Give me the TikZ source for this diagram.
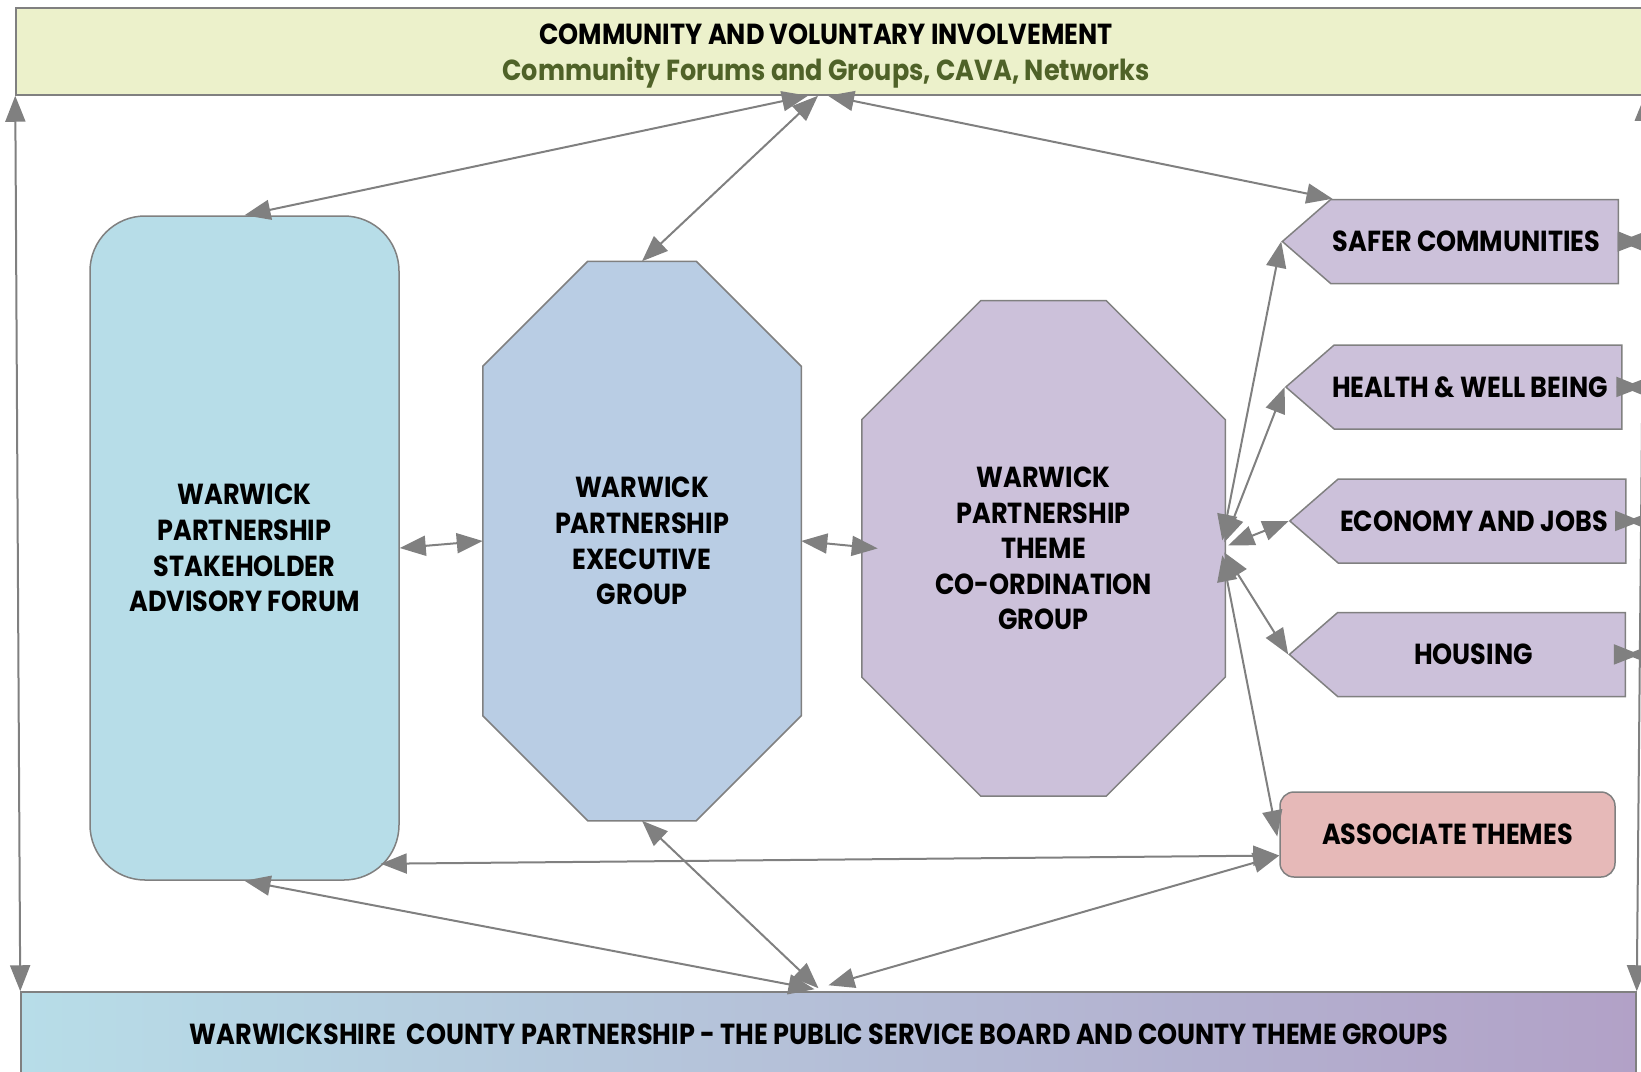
\documentclass[tikz,border=0pt]{standalone}
\usepackage{fontspec}
\newfontfamily\futura[FakeStretch = 0.88]{Poppins}
\usetikzlibrary{shapes}
\usetikzlibrary{calc}
\usetikzlibrary{positioning}
\usetikzlibrary{arrows.meta}
\usetikzlibrary{backgrounds}

\definecolor{barYellow}{RGB}{236,241,203}
\definecolor{forumBlue}{RGB}{183,221,232}
\definecolor{execBlue}{RGB}{185,205,228}
\definecolor{themeLilac}{RGB}{204,193,218}
\definecolor{assocPink}{RGB}{230,185,184}
\definecolor{countyLilac}{RGB}{178,161,199}
\definecolor{forumGreen}{RGB}{79,98,40}
\definecolor{lineGrey}{RGB}{128,128,128}

\begin{document}
\begin{tikzpicture}[x = 1pt, y = -1pt, line width = 1.5pt,
    txt/.style = {font = \futura\bfseries\fontsize{29}{35.6}\selectfont, align = center},
    box/.style = {draw = lineGrey, txt},
    outline/.style = {draw = lineGrey, line width = 1.5pt},
    tip/.style = {draw = lineGrey, line width = 2pt, -{Triangle[length = 26pt, width = 20pt]}},
    link/.style = {tip, {Triangle[length = 26pt, width = 20pt]}-{Triangle[length = 26pt, width = 20pt]}},
    theme/.style = {box, signal, signal to = west, signal pointer angle = 82, fill = themeLilac,
        minimum width = 336pt, minimum height = 84pt, inner sep = 0pt,
        label = {[txt, xshift = -8pt]center:#1}}
]

    \useasboundingbox (0,0) rectangle (1641,1071);
    \clip (0,0) rectangle (1641,1071);

    % the two bars
    \node (TOP) at (841,51.5) [box, fill = barYellow, minimum width = 1650pt, minimum height = 87pt] {};
    \node (TOPTXT) at (826,56) [txt] {COMMUNITY AND VOLUNTARY INVOLVEMENT\\ \color{forumGreen}Community Forums and Groups, CAVA, Networks};

    \node (BOT) at (828.5,1034) [box, left color = forumBlue, right color = countyLilac, minimum width = 1615pt, minimum height = 84pt] {};
    \node (BOTTXT) at (819,1034) [txt] {WARWICKSHIRE\ \ COUNTY PARTNERSHIP - THE PUBLIC SERVICE BOARD AND COUNTY THEME GROUPS};

    % partnership groups
    \node (STK) at (244.5,548) [box, fill = forumBlue, rounded corners = 55pt, minimum width = 309pt, minimum height = 664pt] {WARWICK\\PARTNERSHIP\\STAKEHOLDER\\ADVISORY FORUM};
    \node (EXE) at (642,541) [txt, minimum width = 317pt, minimum height = 558pt] {WARWICK\\PARTNERSHIP\\EXECUTIVE\\GROUP};
    \node (THM) at (1043.5,548.4) [txt, minimum width = 362pt, minimum height = 494pt] {WARWICK\\PARTNERSHIP\\THEME\\CO-ORDINATION\\GROUP};

    \begin{scope}[on background layer]
        \draw[outline, fill = execBlue] ($(EXE.north west)+(105,0)$) -- ($(EXE.north east)+(-105,0)$) -- ($(EXE.north east)+(0,105)$)
            -- ($(EXE.south east)+(0,-105)$) -- ($(EXE.south east)+(-105,0)$) -- ($(EXE.south west)+(105,0)$)
            -- ($(EXE.south west)+(0,-105)$) -- ($(EXE.north west)+(0,105)$) -- cycle;
        \draw[outline, fill = themeLilac] ($(THM.north west)+(119,0)$) -- ($(THM.north east)+(-119,0)$) -- ($(THM.north east)+(0,119)$)
            -- ($(THM.south east)+(0,-119)$) -- ($(THM.south east)+(-119,0)$) -- ($(THM.south west)+(119,0)$)
            -- ($(THM.south west)+(0,-119)$) -- ($(THM.north west)+(0,119)$) -- cycle;
    \end{scope}

    % themes
    \node (SAF) at (1474.5,241.5) [theme = SAFER COMMUNITIES] {};
    \node (HEA) at (1478,387) [theme = HEALTH \& WELL BEING] {};
    \node (ECO) at (1482,521) [theme = ECONOMY AND JOBS] {};
    \node (HOU) at (1481.5,654.5) [theme = HOUSING] {};
    \node (ASC) at (1447.5,834.5) [box, fill = assocPink, rounded corners = 14pt, minimum width = 335pt, minimum height = 85pt] {ASSOCIATE THEMES};

    \coordinate (RT) at (1645,95);

    % links
    \draw[link] ($(TOP.south)+(-33,0)$) -- (STK.north);
    \draw[link] ($(TOP.south)+(-23,0)$) -- (EXE.north);
    \draw[link] ($(TOP.south)+(-13,0)$) -- ($(SAF.north)+(-142,0)$);

    \draw[link] (STK.east) -- (EXE.west);
    \draw[link] (EXE.east) -- ($(THM.west)+(16,0)$);

    \draw[link] ($(THM.east)+(-3,-8)$) -- (SAF.west);
    \draw[link] ($(THM.east)+(-1,-6)$) -- (HEA.west);
    \draw[link] ($(THM.east)+(3,-3)$) -- (ECO.west);
    \draw[link] ($(THM.east)+(-1,4)$) -- (HOU.west);
    \draw[link] ($(THM.east)+(-3,7)$) -- ($(ASC.west)+(-2,2)$);

    \draw[link] ($(STK.south east)+(-19,-17)$) -- ($(ASC.west)+(0,21)$);
    \draw[link] (STK.south) -- ($(BOT.north)+(-14,-2)$);
    \draw[link] (EXE.south) -- ($(BOT.north)+(-10,-3)$);
    \draw[link] ($(ASC.west)+(0,21)$) -- ($(BOT.north)+(0,-6)$);

    \draw[link] (TOP.south west) -- (BOT.north west);
    \draw[link] (RT) -- (BOT.north east);

    % short links to the county side, one head each way
    \draw[tip] ($(RT)!(SAF.east)!(BOT.north east)$) -- (SAF.east);
    \draw[tip] (SAF.east) -- ($(RT)!(SAF.east)!(BOT.north east)$);
    \draw[tip] ($(RT)!(HEA.east)!(BOT.north east)$) -- (HEA.east);
    \draw[tip] (HEA.east) -- ($(RT)!(HEA.east)!(BOT.north east)$);
    \draw[tip] ($(RT)!(ECO.east)!(BOT.north east)$) -- (ECO.east);
    \draw[tip] (ECO.east) -- ($(RT)!(ECO.east)!(BOT.north east)$);
    \draw[tip] ($(RT)!(HOU.east)!(BOT.north east)$) -- (HOU.east);
    \draw[tip] (HOU.east) -- ($(RT)!(HOU.east)!(BOT.north east)$);

\end{tikzpicture}
\end{document}
